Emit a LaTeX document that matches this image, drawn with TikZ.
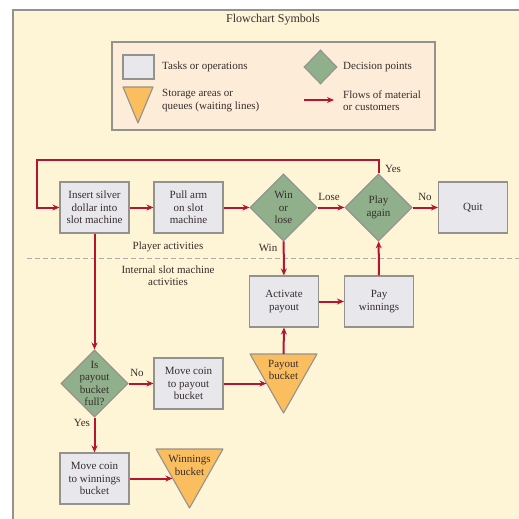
\documentclass[tikz,border=0pt]{standalone}
\usepackage{fontspec}
\setmainfont{Liberation Serif}
\usetikzlibrary{arrows.meta,shapes.geometric}
\definecolor{paper}{RGB}{254,244,214}
\definecolor{keyfill}{RGB}{252,236,216}
\definecolor{edgegray}{RGB}{148,146,143}
\definecolor{taskgray}{RGB}{232,231,235}
\definecolor{decgreen}{RGB}{143,176,138}
\definecolor{storeorange}{RGB}{250,190,95}
\definecolor{flowred}{RGB}{180,22,50}
\definecolor{ink}{RGB}{55,45,45}

\begin{document}
\begin{tikzpicture}[x=1pt,y=-1pt,font=\fontsize{11}{12.5}\selectfont,
  task/.style={draw=edgegray,fill=taskgray,line width=1.1pt,minimum width=69pt,minimum height=51pt,align=center,inner sep=1pt,text=ink},
  decision/.style={diamond,draw=edgegray,fill=decgreen,line width=1.1pt,minimum width=67pt,minimum height=67pt,align=center,inner sep=-5pt,text=ink},
  storage/.style={draw=edgegray,fill=storeorange,line width=1.1pt,line join=round},
  flow/.style={draw=flowred,line width=2pt,-{Stealth[length=7pt,width=6pt]}},
  tag/.style={text=ink,inner sep=1pt}]
\useasboundingbox (0,0) rectangle (519,519);
\fill[paper] (13,10) rectangle (519,519);
\draw[edgegray,line width=1.2pt] (13,519) -- (13,10) -- (519,10);

% key
\node[tag,font=\fontsize{12}{14}\selectfont] (title) at (273,20) {Flowchart Symbols};
\draw[edgegray,fill=keyfill,line width=1.1pt] (112,42) rectangle (435,130);
\node[task,minimum width=31pt,minimum height=24pt] (keytask) at (138.5,67) {};
\node[tag,anchor=west] (keytasktxt) at (161,67) {Tasks or operations};
\node[decision,minimum width=33pt,minimum height=34pt] (keydec) at (320.5,67) {};
\node[tag,anchor=west] (keydectxt) at (342,67) {Decision points};
\filldraw[storage] (123,87) -- (153,87) -- (138,123) -- cycle;
\node[tag,anchor=west,align=left] (keystoretxt) at (161,100.5) {Storage areas or\\queues (waiting lines)};
\coordinate (keyflowa) at (304,100);
\coordinate (keyflowb) at (334,100);
\draw[flow] (keyflowa) -- (keyflowb);
\node[tag,anchor=west,align=left] (keyflowtxt) at (342,100.5) {Flows of material\\or customers};

% player side
\node[task] (insert) at (94.5,207.5) {Insert silver\\dollar into\\slot machine};
\node[task] (pull) at (188.5,207.5) {Pull arm\\on slot\\machine};
\node[decision] (win) at (283.5,207.5) {Win\\or\\lose};
\node[decision] (play) at (378.5,207.5) {Play\\again};
\node[task] (quit) at (473,207.5) {Quit};
\node[tag] (playertxt) at (168,247) {Player activities};
\draw[edgegray!75,line width=1pt,dash pattern=on 5pt off 3pt] (27,258) -- (519,258);
\node[tag,align=center] (internaltxt) at (168,275.5) {Internal slot machine\\activities};

% machine side
\node[task] (activate) at (284,301.5) {Activate\\payout};
\node[task] (pay) at (379,301.5) {Pay\\winnings};
\node[decision] (full) at (94.5,383.5) {Is\\payout\\bucket\\full?};
\node[task] (movepay) at (188.5,383.5) {Move coin\\to payout\\bucket};
\node[task] (movewin) at (94.5,478.5) {Move coin\\to winnings\\bucket};
\filldraw[storage] (250,354) -- (317,354) -- (283.5,413) -- cycle;
\node[tag,align=center] (paybucket) at (283.5,370) {Payout\\bucket};
\coordinate (paytop) at (283.5,354);
\coordinate (payin) at (266.5,383.5);
\filldraw[storage] (156,449) -- (223,449) -- (189.5,508) -- cycle;
\node[tag,align=center] (winbucket) at (189.5,465.5) {Winnings\\bucket};
\coordinate (winin) at (172.5,478.5);

% flows
\coordinate (loopr) at (378.5,160);
\coordinate (loopl) at (37,160);
\draw[flow] (play.north) -- (loopr) -- (loopl) |- (insert.west);
\draw[flow] (insert) -- (pull);
\draw[flow] (pull) -- (win);
\draw[flow] (win) -- (play);
\draw[flow] (play) -- (quit);
\draw[flow] (win) -- (activate);
\draw[flow] (activate) -- (pay);
\draw[flow] (pay) -- (play);
\draw[flow] (insert) -- (full);
\draw[flow] (full) -- (movepay);
\draw[flow] (movepay.east) -- (payin);
\draw[flow] (paytop) -- (activate.south);
\draw[flow] (full) -- (movewin);
\draw[flow] (movewin.east) -- (winin);
\node[tag] (yesplay) at (393,169) {Yes};
\node[tag] (loselbl) at (329,197) {Lose};
\node[tag] (nolbl) at (425,197) {No};
\node[tag] (winlbl) at (268,248) {Win};
\node[tag] (nofull) at (137,373) {No};
\node[tag] (yesfull) at (82,423) {Yes};
\end{tikzpicture}
\end{document}
